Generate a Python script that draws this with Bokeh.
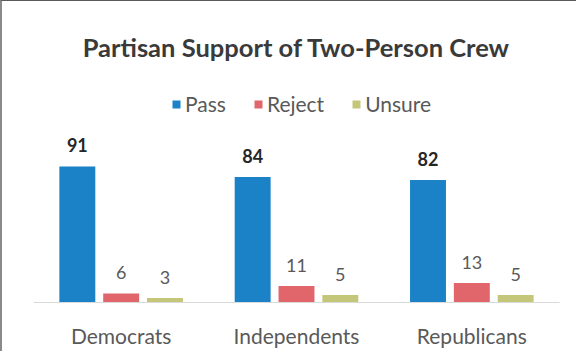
from bokeh.plotting import figure
from bokeh.models import ColumnDataSource, FactorRange, Legend, LegendItem, Range1d
from bokeh.transform import dodge
from bokeh.core.properties import value
from bokeh.embed import file_html
from bokeh.resources import INLINE

categories = ["Democrats", "Independents", "Republicans"]
series = ["Pass", "Reject", "Unsure"]
pass_vals = [91, 84, 82]
reject_vals = [6, 11, 13]
unsure_vals = [3, 5, 5]
colors = ["#1b82c8", "#e0666b", "#c4c67a"]
offsets = [-0.25, 0.0, 0.25]

FONT = "Lato"

p = figure(x_range=FactorRange(*categories), y_range=Range1d(0, 157.9),
           width=576, height=351, output_backend="svg", toolbar_location=None,
           min_border_left=31, min_border_right=19, min_border_bottom=50,
           min_border_top=65)
# left and top edges of the scanned panel's frame
p.styles = {"border-left": "2px solid #8a8a8a", "border-top": "1px solid #5a5a5a"}

p.title.text = "Partisan Support of Two-Person Crew"
p.title.text_font = FONT
p.title.text_font_size = "25.5px"
p.title.text_font_style = "bold"
p.title.text_color = "#3a3a3a"
p.title.align = "center"
p.title.offset = 0

src = ColumnDataSource(dict(cat=categories, Pass=pass_vals, Reject=reject_vals, Unsure=unsure_vals,
                            Pass_t=[str(v) for v in pass_vals],
                            Reject_t=[str(v) for v in reject_vals],
                            Unsure_t=[str(v) for v in unsure_vals]))

items = []
for s, c, off in zip(series, colors, offsets):
    r = p.vbar(x=dodge("cat", off, range=p.x_range), top=s, width=0.205, source=src,
               fill_color=c, line_color=None)
    items.append(LegendItem(label=s, renderers=[r]))
    bold = s == "Pass"
    p.text(x=dodge("cat", off, range=p.x_range), y=s, text=s + "_t", source=src,
           text_align="center", text_baseline="alphabetic", y_offset=-21,
           text_font=value(FONT), text_font_size="18px",
           text_font_style="bold" if bold else "normal",
           text_color="#262626" if bold else "#595959")

legend = Legend(items=items, orientation="horizontal", location=(138, 186),
                glyph_width=10, glyph_height=10, label_standoff=4, spacing=27,
                padding=0, margin=0, border_line_color=None, background_fill_alpha=0,
                label_text_font=FONT, label_text_font_size="21px", label_text_color="#595959")
p.add_layout(legend)

p.xaxis.axis_line_color = "#d9d9d9"
p.xaxis.major_tick_line_color = None
p.xaxis.minor_tick_line_color = None
p.xaxis.major_label_text_font = FONT
p.xaxis.major_label_text_font_size = "21px"
p.xaxis.major_label_text_color = "#595959"
p.xaxis.major_label_standoff = 14
p.yaxis.visible = False
p.xgrid.grid_line_color = None
p.ygrid.grid_line_color = None
p.outline_line_color = None

open("out.html", "w").write(file_html(p, INLINE))
